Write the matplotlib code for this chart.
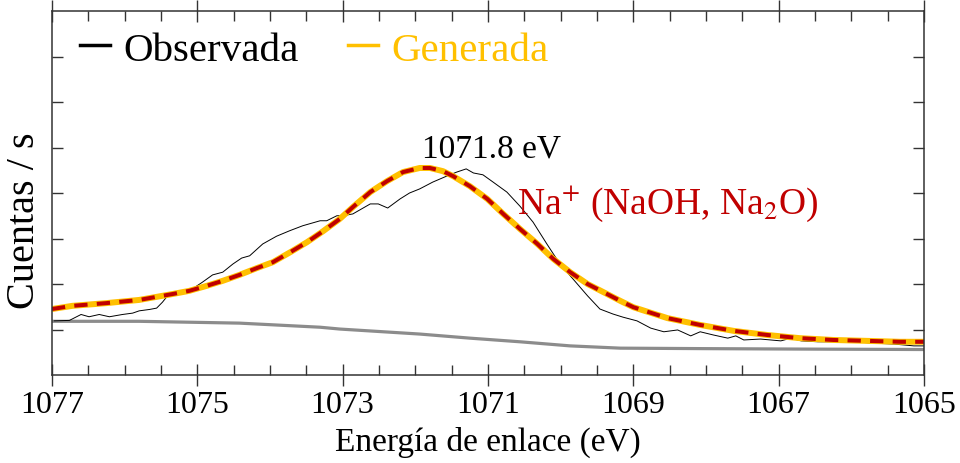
import matplotlib
matplotlib.use("Agg")
import matplotlib.pyplot as plt
from matplotlib.lines import Line2D

plt.rcParams["font.family"] = ["Liberation Serif", "DejaVu Serif"]
plt.rcParams["mathtext.fontset"] = "stix"

# Observed spectrum (binding energy eV, counts a.u.)
obs_ev = [1076.97, 1076.76, 1076.60, 1076.49, 1076.35, 1076.21, 1076.03, 1075.89, 1075.80,
          1075.66, 1075.56, 1075.48, 1075.41, 1075.24, 1075.07, 1074.93, 1074.79, 1074.65,
          1074.51, 1074.39, 1074.28, 1074.10, 1073.91, 1073.73, 1073.55, 1073.31, 1073.22,
          1073.08, 1073.00, 1072.86, 1072.62, 1072.51, 1072.38, 1072.21, 1072.08, 1071.94,
          1071.76, 1071.57, 1071.43, 1071.30, 1071.20, 1071.07, 1070.93, 1070.74, 1070.56,
          1070.38, 1070.19, 1070.01, 1069.83, 1069.63, 1069.46, 1069.28, 1069.14, 1068.95,
          1068.76, 1068.58, 1068.39, 1068.21, 1068.08, 1067.90, 1067.70, 1067.59, 1067.48,
          1067.25, 1066.97, 1066.83, 1066.69, 1066.46, 1066.24, 1065.97, 1065.69, 1065.41,
          1065.14, 1065.00]
obs_cts = [1.19, 1.20, 1.33, 1.28, 1.33, 1.28, 1.33, 1.36, 1.41,
           1.44, 1.47, 1.60, 1.74, 1.82, 1.89, 2.04, 2.20, 2.26,
           2.44, 2.57, 2.62, 2.88, 3.05, 3.17, 3.28, 3.39, 3.39,
           3.50, 3.50, 3.54, 3.76, 3.76, 3.67, 3.87, 4.00, 4.09,
           4.24, 4.37, 4.46, 4.53, 4.44, 4.40, 4.24, 4.02, 3.71,
           3.36, 2.88, 2.44, 2.11, 1.74, 1.45, 1.34, 1.27, 1.19,
           1.03, 0.95, 0.99, 0.86, 0.95, 0.88, 0.81, 0.86, 0.77,
           0.79, 0.75, 0.81, 0.75, 0.73, 0.73, 0.73, 0.70, 0.68,
           0.64, 0.64]

# Generated (fitted) envelope
fit_ev = [1077.00, 1076.72, 1076.25, 1075.80, 1075.34, 1075.11, 1074.87, 1074.65, 1074.42,
          1074.18, 1073.96, 1073.72, 1073.49, 1073.27, 1073.04, 1072.86, 1072.62, 1072.39,
          1072.17, 1071.94, 1071.80, 1071.62, 1071.48, 1071.25, 1071.01, 1070.79, 1070.56,
          1070.32, 1070.10, 1069.87, 1069.63, 1069.41, 1069.18, 1069.00, 1068.53, 1068.08,
          1067.62, 1067.16, 1066.71, 1066.25, 1065.78, 1065.33, 1065.00]
fit_cts = [1.45, 1.52, 1.58, 1.65, 1.78, 1.85, 1.96, 2.07, 2.20,
           2.35, 2.48, 2.70, 2.92, 3.16, 3.43, 3.69, 4.02, 4.26,
           4.46, 4.55, 4.55, 4.48, 4.37, 4.15, 3.87, 3.54, 3.21,
           2.88, 2.55, 2.26, 2.00, 1.82, 1.63, 1.49, 1.25, 1.10,
           0.97, 0.88, 0.81, 0.77, 0.75, 0.73, 0.73]

# Shirley background
bg_ev = [1077.00, 1075.80, 1074.42, 1073.31, 1073.04, 1071.94, 1071.25, 1070.56, 1069.87,
         1069.18, 1068.08, 1066.71, 1065.00]
bg_cts = [1.18, 1.18, 1.14, 1.05, 1.01, 0.90, 0.81, 0.73, 0.64,
          0.59, 0.58, 0.57, 0.56]

x_ticks = [1077, 1075, 1073, 1071, 1069, 1067, 1065]
y_ticks = [1, 2, 3, 4, 5, 6, 7]

RED = "#C00000"
GOLD = "#FFC000"

fig = plt.figure(figsize=(9.6, 4.64), dpi=100)
ax = fig.add_axes([52 / 960, 88 / 464, 872 / 960, 364 / 464])

ax.plot(bg_ev, bg_cts, color="#8c8c8c", lw=2.3, solid_capstyle="butt")
ax.plot(obs_ev, obs_cts, color="black", lw=0.7)
ax.plot(fit_ev, fit_cts, color=GOLD, lw=4.3, solid_capstyle="butt")
ax.plot(fit_ev, fit_cts, color=RED, lw=2.9, dashes=(3.3, 2.3))

ax.set_xlim(1077, 1065)
ax.set_ylim(0, 8)
ax.set_xticks(x_ticks)
ax.set_xticks([v / 2 for v in range(2130, 2155)], minor=True)
ax.set_yticks(y_ticks)
ax.set_yticklabels([])

ax.tick_params(axis="x", which="major", direction="inout", length=16, width=1,
               labelsize=23, pad=3, top=True, color="#333333")
ax.tick_params(axis="x", which="minor", direction="in", length=7, width=1,
               top=True, color="#333333")
ax.tick_params(axis="y", which="major", direction="in", length=8, width=1,
               right=True, color="#333333")
for s in ax.spines.values():
    s.set_linewidth(1.1)
    s.set_color("#333333")

ax.set_xlabel("Energía de enlace (eV)", fontsize=24)
ax.xaxis.set_label_coords(0.5, -0.14)
ax.set_ylabel("Cuentas / s", fontsize=29)
ax.yaxis.set_label_coords(-0.01, 0.426)

ax.text(1070.95, 4.98, "1071.8 eV", fontsize=24, ha="center", va="center")
ax.text(1070.6, 3.78, r"Na$^{+}$ (NaOH, Na$_{2}$O)", fontsize=27, color=RED,
        ha="left", va="center")

handles = [Line2D([], [], color="black", lw=2.5),
           Line2D([], [], color=GOLD, lw=2.5)]
leg = ax.legend(handles, ["Observada", "Generada"], loc="center left",
                bbox_to_anchor=(0.032, 0.893), ncol=2, frameon=False, fontsize=29.5,
                handlelength=0.73, handletextpad=0.32, columnspacing=1.22,
                borderpad=0, borderaxespad=0, labelcolor="linecolor")

fig.savefig("out.png", dpi=100)
